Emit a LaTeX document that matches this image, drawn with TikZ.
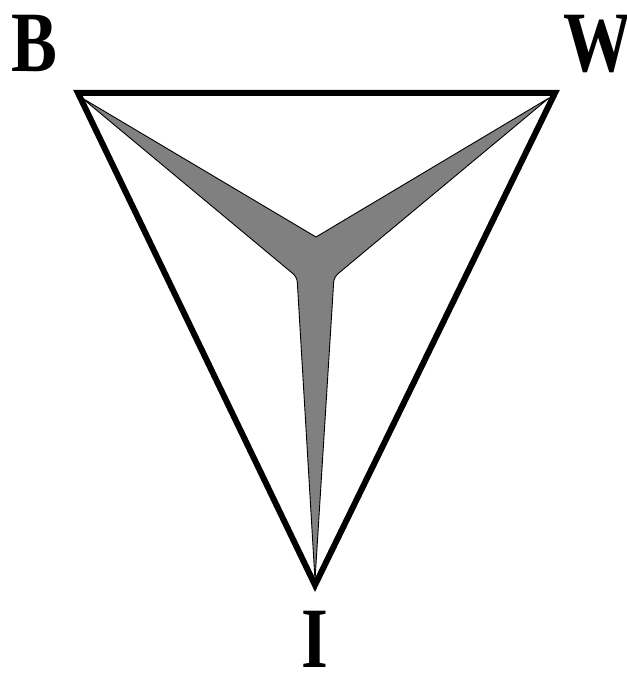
\documentclass[tikz,border=0pt]{standalone}
\usepackage{fontspec}
\setmainfont{Liberation Serif}
\usepackage{tikz}
\tikzset{
  diagram/.style={x=1pt, y=1pt},
  frame/.style={line width=6pt, line join=miter},
  vlabel/.style={font=\fontsize{86}{86}\selectfont\bfseries, inner sep=0pt,
    xscale=0.8, transform shape},
  spike/.style={fill=gray, draw=black, line width=0.9pt, line join=round},
}

\begin{document}
\begin{tikzpicture}[diagram]
  \useasboundingbox (0,0) rectangle (627,673);
  % corners of the triangle
  \coordinate (B) at (78,580);
  \coordinate (W) at (555,580);
  \coordinate (I) at (315,88);
  \draw[frame] (B) -- (W) -- (I) -- cycle;
  % grey three-armed star
  \coordinate (tb) at (82,575);
  \coordinate (tw) at (549,575);
  \coordinate (ti) at (315,93);
  \coordinate (notch) at (316,436);
  \coordinate (lc) at (297,396);
  \coordinate (rc) at (334,396);
  \filldraw[spike] (tb) -- (notch) -- (tw) [rounded corners=5pt] -- (rc)
    [sharp corners] -- (ti) [rounded corners=5pt] -- (lc) [sharp corners] -- cycle;
  % labels
  \node[vlabel] (lb) at (34,630) {B};
  \node[vlabel] (lw) at (598,629) {W};
  \node[vlabel] (li) at (315,34) {I};
\end{tikzpicture}
\end{document}
